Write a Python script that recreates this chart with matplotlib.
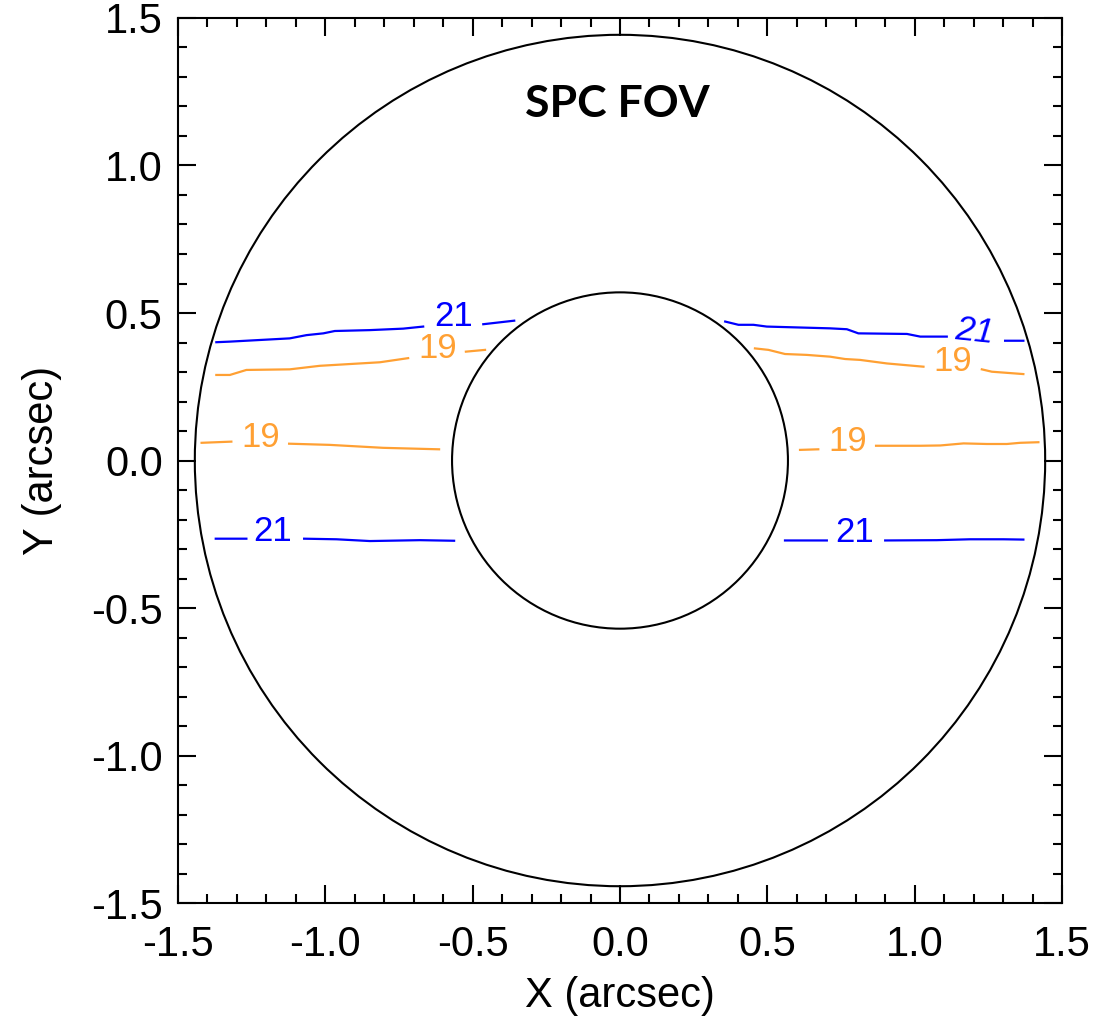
import numpy as np
import matplotlib
matplotlib.use("Agg")
import matplotlib.pyplot as plt
from matplotlib.patches import Circle
from matplotlib.ticker import MultipleLocator

nan = np.nan

# field of view rings (arcsec)
r_outer = 1.443
r_inner = 0.57

# contour level 21 (blue), NaN = gap for the label
c21_top_x = [-1.370, -1.324, -1.121, -1.064, -1.007, -0.968, -0.849, -0.736, -0.668, nan, -0.464, -0.359,
             nan, 0.357, 0.402, 0.453, 0.498, 0.713, 0.770, 0.809, 0.974, 1.019, 1.109, nan, 1.307, 1.369]
c21_top_y = [0.401, 0.403, 0.414, 0.425, 0.431, 0.439, 0.442, 0.447, 0.454, nan, 0.462, 0.474,
             nan, 0.471, 0.460, 0.460, 0.454, 0.448, 0.445, 0.431, 0.429, 0.420, 0.420, nan, 0.406, 0.406]
c21_bot_x = [-1.372, -1.268, nan, -1.072, -0.962, -0.849, -0.792, -0.679, -0.563,
             nan, 0.560, 0.702, nan, 0.900, 1.075, 1.188, 1.302, 1.369]
c21_bot_y = [-0.265, -0.265, nan, -0.265, -0.267, -0.273, -0.272, -0.270, -0.272,
             nan, -0.271, -0.271, nan, -0.271, -0.270, -0.267, -0.267, -0.268]

# contour level 19 (orange)
c19_top_x = [-1.370, -1.324, -1.268, -1.121, -1.019, -0.815, -0.719, nan, -0.523, -0.458,
             nan, 0.458, 0.504, 0.560, 0.634, 0.713, 0.764, 0.815, 0.906, 1.030, nan, 1.228, 1.262, 1.369]
c19_top_y = [0.290, 0.290, 0.307, 0.309, 0.321, 0.333, 0.347, nan, 0.369, 0.375,
             nan, 0.380, 0.375, 0.361, 0.358, 0.352, 0.344, 0.341, 0.329, 0.318, nan, 0.309, 0.301, 0.293]
c19_mid_x = [-1.420, -1.319, nan, -1.123, -0.985, -0.804, -0.614,
             nan, 0.611, 0.673, nan, 0.869, 1.019, 1.087, 1.166, 1.245, 1.313, 1.358, 1.420]
c19_mid_y = [0.060, 0.064, nan, 0.057, 0.053, 0.043, 0.038,
             nan, 0.036, 0.038, nan, 0.050, 0.050, 0.051, 0.058, 0.056, 0.056, 0.060, 0.062]

# contour labels
lab_x = [-0.566, -1.178, 1.202, 0.795, -0.620, -1.220, 1.128, 0.772]
lab_y = [0.487, -0.240, 0.437, -0.245, 0.378, 0.079, 0.336, 0.064]
lab_txt = ["21", "21", "21", "21", "19", "19", "19", "19"]
lab_rot = [0, 0, -6, 0, 0, 0, 0, 0]

blue = "#0000FF"
orange = "#FFA033"

plt.rcParams['font.family'] = ['Liberation Sans', 'DejaVu Sans']

fig = plt.figure(figsize=(11.03, 10.22), dpi=100)
ax = fig.add_axes([0.1614, 0.1164, 0.8014, 0.866])

ax.add_patch(Circle((0, 0), r_outer, fill=False, color="black", lw=1.5))
ax.add_patch(Circle((0, 0), r_inner, fill=False, color="black", lw=1.5))

ax.plot(c21_top_x, c21_top_y, color=blue, lw=1.6)
ax.plot(c21_bot_x, c21_bot_y, color=blue, lw=1.6)
ax.plot(c19_top_x, c19_top_y, color=orange, lw=1.6)
ax.plot(c19_mid_x, c19_mid_y, color=orange, lw=1.6)

for x, y, t, r in zip(lab_x, lab_y, lab_txt, lab_rot):
    c = blue if t == "21" else orange
    st = "italic" if r != 0 else "normal"
    ax.text(x, y, t, color=c, fontsize=25, ha="center", va="center",
            rotation=r, style=st)

ax.text(-0.01, 1.208, "SPC FOV", fontsize=32, fontweight="bold",
        family="Lato", ha="center", va="center")

ax.set_xlim(-1.5, 1.5)
ax.set_ylim(-1.5, 1.5)
ax.xaxis.set_major_locator(MultipleLocator(0.5))
ax.yaxis.set_major_locator(MultipleLocator(0.5))
ax.xaxis.set_minor_locator(MultipleLocator(0.1))
ax.yaxis.set_minor_locator(MultipleLocator(0.1))
ax.xaxis.set_major_formatter(plt.FormatStrFormatter("%.1f"))
ax.yaxis.set_major_formatter(plt.FormatStrFormatter("%.1f"))
ax.tick_params(which="both", direction="in", top=True, right=True,
               labelsize=30, width=1.5)
ax.tick_params(axis="x", which="major", pad=16)
ax.tick_params(axis="y", which="major", pad=11)
ax.tick_params(which="major", length=13)
ax.tick_params(which="minor", length=6.5)
for s in ax.spines.values():
    s.set_linewidth(1.5)

ax.set_xlabel("X (arcsec)", fontsize=30, labelpad=8)
ax.set_ylabel("Y (arcsec)", fontsize=30, labelpad=21)

fig.savefig("out.png", dpi=100)
